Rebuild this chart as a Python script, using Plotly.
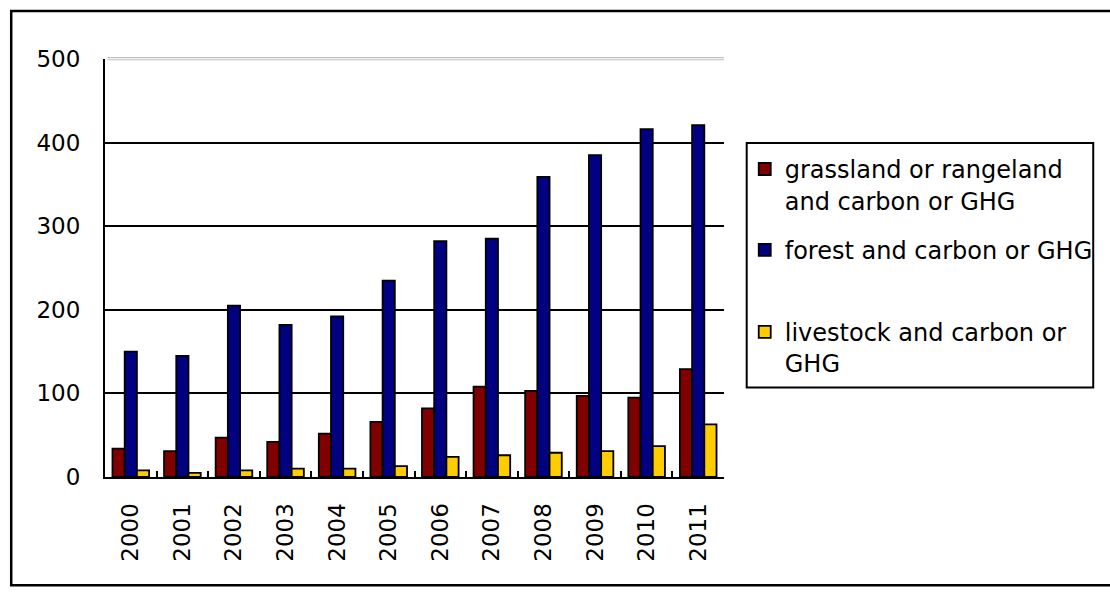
import plotly.graph_objects as go

years = ["2000", "2001", "2002", "2003", "2004", "2005", "2006", "2007", "2008", "2009", "2010", "2011"]
grassland = [34, 31, 47, 42, 52, 66, 82, 108, 103, 97, 95, 129]
forest = [150, 145, 205, 182, 192, 235, 282, 285, 359, 385, 416, 421]
livestock = [8, 5, 8, 10, 10, 13, 24, 26, 29, 31, 37, 63]

names = ["grassland or rangeland<br>and carbon or GHG",
         "forest and carbon or GHG",
         "livestock and carbon or<br>GHG"]
colors = ["#800000", "#000080", "#FFCC00"]

W, H = 1110, 594
L, R, T, B = 105, 732, 59, 477.5
pw, ph = R - L, B - T

def px(x):
    return (x - L) / pw

def py(y):
    return (B - y) / ph

fig = go.Figure()
series = [grassland, forest, livestock]
legends = ["legend", "legend2", "legend3"]
for s, n, c, lg in zip(series, names, colors, legends):
    fig.add_trace(go.Bar(x=years, y=s, name=n, legend=lg,
                         marker=dict(color=c, line=dict(color="black", width=1.8))))

font_family = "DejaVu Sans, sans-serif"

leg_common = dict(bgcolor="rgba(0,0,0,0)", borderwidth=0, xanchor="left", yanchor="top",
                  font=dict(family=font_family, size=24, color="black"), valign="top")

fig.update_layout(
    width=W, height=H,
    margin=dict(l=L, r=W - R, t=T, b=H - B, pad=0),
    paper_bgcolor="white", plot_bgcolor="white",
    barmode="group", bargap=0.29, bargroupgap=0,
    font=dict(family=font_family, size=23, color="black"),
    showlegend=True,
    legend=dict(x=px(753), y=py(147), **leg_common),
    legend2=dict(x=px(753), y=py(228), **leg_common),
    legend3=dict(x=px(753), y=py(310), **leg_common),
    xaxis=dict(showline=True, linecolor="black", linewidth=2, ticks="inside", ticklen=6,
               tickwidth=2, tickcolor="black", tickson="boundaries", tickangle=-90,
               showgrid=False, ticklabelstandoff=15,
               tickfont=dict(family=font_family, size=23, color="black")),
    yaxis=dict(range=[0, 500], dtick=100, showline=True, linecolor="black", linewidth=2,
               ticks="inside", ticklen=7, tickwidth=2, tickcolor="black",
               showgrid=True, gridcolor="black", gridwidth=1.5, zeroline=False,
               ticklabelstandoff=18,
               tickfont=dict(family=font_family, size=23, color="black")),
    shapes=[
        # hide black gridline at 500, replace with light gray double line
        dict(type="line", xref="paper", yref="paper", x0=0.004, x1=1, y0=1, y1=1,
             line=dict(color="white", width=3), layer="above"),
        dict(type="line", xref="paper", yref="paper", x0=0.004, x1=1, y0=py(57.6), y1=py(57.6),
             line=dict(color="#c0c0c0", width=1.1), layer="above"),
        dict(type="line", xref="paper", yref="paper", x0=0.004, x1=1, y0=py(59.8), y1=py(59.8),
             line=dict(color="#c0c0c0", width=1.1), layer="above"),
        # legend frame
        dict(type="rect", xref="paper", yref="paper", x0=px(755), x1=px(1106),
             y0=py(388), y1=py(143), line=dict(color="black", width=2)),
        # outer chart frame
        dict(type="rect", xref="paper", yref="paper", x0=px(10), x1=px(1125),
             y0=py(586), y1=py(11), line=dict(color="black", width=2.5)),
    ],
)

fig.write_html("out.html", config={"displayModeBar": False},
               post_script="document.body.style.margin='0';document.body.style.overflow='hidden';")
